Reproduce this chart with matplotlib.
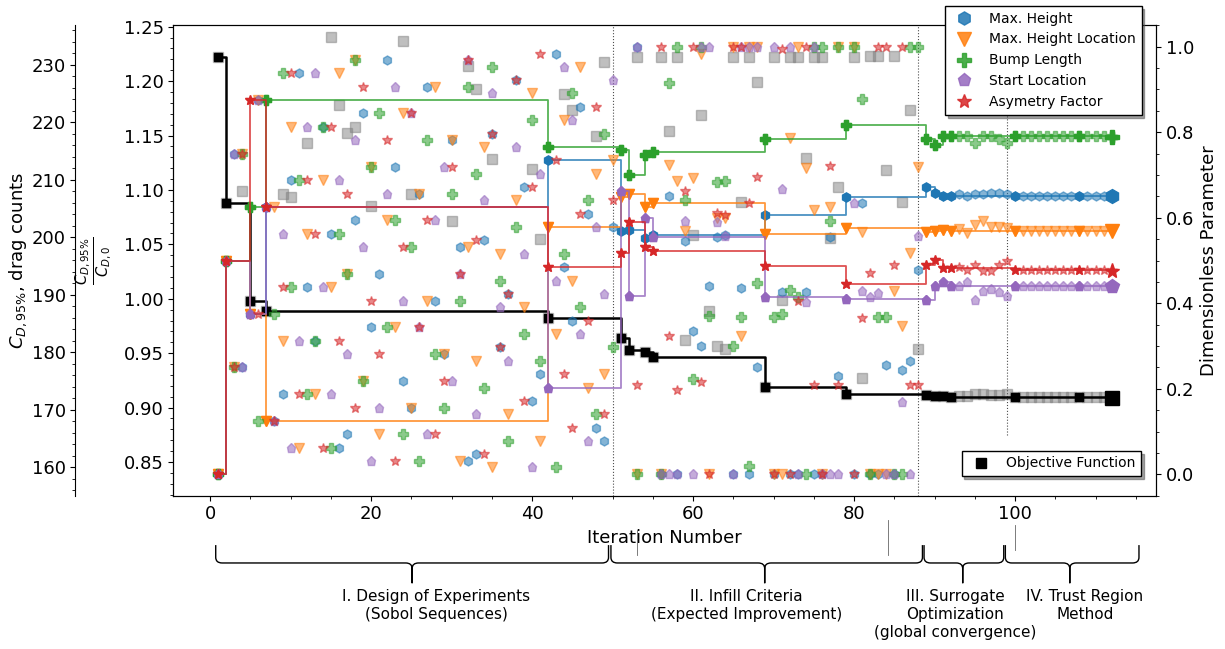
import numpy as np
import matplotlib
matplotlib.use('Agg')
import matplotlib.pyplot as plt
import matplotlib.transforms as mtransforms
from matplotlib.lines import Line2D
from matplotlib.path import Path
from matplotlib.patches import PathPatch
from matplotlib.ticker import MultipleLocator, FormatStrFormatter

# iterations 1..112, dimensionless design parameters (0..1)
iteration = np.arange(1, 113)

max_height = [
    0, .5, .75, .25, .375, .875, .625, .125, .188, .688, .938, .438, .312, .812, .562, .062, .094, .594, .844, .344,
    .469, .969, .719, .219, .156, .656, .906, .406, .281, .781, .531, .031, .047, .547, .797, .297, .422, .922, .672, .172,
    .234, .734, .984, .484, .359, .859, .609, .109, .078, .578,
    .568, .571, 1, .552, .560, 0, .650, 0, .545, .334, .299, .440, .554, .560, 0, .436, 0, .251, .607, 0,
    .426, 0, 0, .427, 0, 0, .554, .229, .648, 0, .635, 0, 0, .256, 0, .244, .265, .478,
    .673, .657, .652, .650, .656, .652, .656, .656, .657, .657, .656, .652,
    .652, .652, .652, .652, .652, .652, .652, .652, .652, .652, .652, .652]

max_height_loc = [
    0, .5, .25, .75, .375, .875, .125, .625, .312, .812, .062, .562, .188, .688, .438, .938, .469, .969, .219, .719,
    .094, .594, .344, .844, .156, .656, .406, .906, .281, .781, .031, .531, .266, .766, .016, .516, .141, .641, .391, .891,
    .078, .578, .328, .828, .453, .953, .203, .703, .234, .734,
    .648, .656, 0, .626, .635, 0, .724, .687, .570, .693, .982, 0, .599, .599, 1, .324, 1, 1, .561, 0,
    0, .787, 1, .716, .619, 0, .626, 1, .576, 1, .566, 0, 0, 0, .428, .347, .517, .718,
    .566, .568, .571, .568, .574, .564, .584, .592, .579, .579, .576, .568,
    .568, .568, .568, .568, .568, .568, .568, .568, .568, .568, .568, .568]

bump_length = [
    0, .5, .25, .75, .625, .125, .875, .375, .938, .438, .688, .188, .312, .812, .062, .562, .469, .969, .219, .719,
    .844, .344, .594, .094, .531, .031, .781, .281, .156, .656, .406, .906, .703, .203, .953, .453, .078, .578, .328, .828,
    .266, .766, .016, .516, .891, .391, .641, .141, .797, .297,
    .759, .700, 0, .746, .753, 0, .916, 1, .642, .223, 1, .371, .683, .687, .299, .369, .020, .447, .783, .367,
    .376, .431, .414, 0, 1, 1, .593, 1, .817, 1, .878, 0, .368, .368, 0, 0, 1, 1,
    .785, .771, .791, .791, .791, .791, .775, .791, .791, .783, .775, .792,
    .792, .792, .792, .792, .792, .792, .792, .792, .792, .792, .792, .789]

asymmetry = [
    0, .5, .25, .75, .875, .375, .625, .125, .438, .938, .188, .688, .562, .062, .812, .312, .656, .156, .906, .406,
    .281, .781, .031, .531, .844, .344, .594, .094, .219, .719, .469, .969, .547, .047, .797, .297, .422, .922, .172, .672,
    .984, .484, .734, .234, .109, .609, .359, .859, .141, .641,
    .518, .591, .209, .532, .523, 1, .323, .197, .663, 1, .217, 0, .611, .607, 1, 1, .635, .696, .488, 0,
    .995, 0, .406, 1, .208, 0, .721, .208, .445, 0, .365, .470, 1, 1, .489, 1, .208, .208,
    .489, .502, .482, .482, .484, .478, .490, .476, .476, .490, .498, .478,
    .478, .478, .478, .478, .478, .478, .478, .478, .478, .478, .478, .476]

start_loc = [
    0, .5, .75, .25, .375, .875, .625, .125, .562, .062, .312, .812, .938, .438, .188, .688, .281, .781, .531, .031,
    .156, .656, .906, .406, .844, .344, .094, .594, .719, .219, .469, .969, .141, .641, .891, .391, .266, .766, .516, .016,
    .703, .203, .453, .953, .828, .328, .078, .578, .422, .922,
    .662, .418, 1, .599, .554, 0, 0, 0, .593, 0, 1, 1, .589, .557, 0, 1, 1, 1, .414, 1,
    .667, 1, 0, .404, 1, 0, 0, 0, .410, .635, .429, .415, .423, 0, 0, .169, 0, .558,
    .408, .441, .450, .441, .441, .449, .408, .429, .433, .426, .418, .441,
    .441, .441, .441, .441, .441, .441, .441, .441, .441, .441, .441, .441]

# objective C_D,95% / C_D,0 of each evaluated design (only the ones inside the plot range)
obj_iter = [1, 2, 4, 5, 7, 9, 10, 12, 15, 16, 17, 18, 20, 24, 25, 30, 32, 33, 35, 40, 41, 42, 44, 45, 48, 49,
            51, 52, 53, 54, 55, 56, 57, 58, 59, 60, 61, 62, 63, 64, 65, 66, 67, 68, 69, 70, 71, 72, 73, 74,
            75, 76, 77, 78, 79, 80, 81, 82, 83, 84, 85, 86, 87, 88,
            89, 90, 91, 92, 93, 94, 95, 96, 97, 98, 99, 100, 101, 102, 103, 104, 105, 106, 107, 108,
            109, 110, 111, 112]
obj_val = [1.222, 1.0878, 1.0988, 0.9978, 0.9892, 1.096, 1.0936, 1.1432, 1.2406, 1.1778, 1.1521, 1.1576, 1.0853,
           1.2369, 1.0967, 1.071, 1.2137, 1.1928, 1.1282, 1.1188, 1.0547, 0.9819, 1.1882, 1.1739, 1.1494, 1.2176,
           0.964, 0.9527, 1.2218, 0.9509, 0.9466, 1.2224, 1.1543, 1.2224, 0.962, 1.0584, 1.1692, 0.9888, 0.9565,
           0.9541, 1.2218, 1.0892, 1.2218, 1.1993, 0.9193, 1.2218, 0.999, 1.2218, 1.2218, 1.1295, 1.2218, 1.2218,
           1.0556, 1.1028, 0.9123, 1.2218, 0.9272, 1.2228, 1.2228, 1.1183, 1.2233, 1.0887, 1.1733, 0.9536,
           0.912, 0.9107, 0.9105, 0.9101, 0.9107, 0.9107, 0.9129, 0.9129, 0.9116, 0.9116, 0.9123, 0.9095,
           0.9095, 0.9095, 0.9095, 0.9095, 0.9095, 0.9095, 0.9095, 0.9093, 0.9093, 0.9093, 0.9093, 0.9088]

# best design so far
best_iter = [1, 2, 5, 7, 42, 51, 52, 54, 55, 69, 79, 89, 90, 91, 92, 100, 108, 112]
best_obj = [1.222, 1.0878, 0.9978, 0.9892, 0.9819, 0.964, 0.9527, 0.9509, 0.9466, 0.9193, 0.9123,
            0.912, 0.9107, 0.9105, 0.9101, 0.9095, 0.9093, 0.9088]

cd0_counts = 189.3

phase_lo = [0.7, 49.8, 88.7, 98.8]
phase_hi = [49.5, 88.5, 98.6, 115.4]
phase_tip = [25.1, 68.9, 93.5, 106.8]
phase_text = ['I. Design of Experiments\n(Sobol Sequences)',
              'II. Infill Criteria\n(Expected Improvement)',
              'III. Surrogate\nOptimization\n(global convergence)',
              'IV. Trust Region\nMethod']
phase_text_x = [28.1, 66.6, 92.6, 108.7]

params = [
    ('Max. Height', max_height, 'h', 'tab:blue', 6.5),
    ('Max. Height Location', max_height_loc, 'v', 'tab:orange', 6.5),
    ('Bump Length', bump_length, 'P', 'tab:green', 6.5),
    ('Start Location', start_loc, 'p', 'tab:purple', 6.5),
    ('Asymetry Factor', asymmetry, '*', 'tab:red', 7.5),
]

plt.rcParams['font.size'] = 13

fig = plt.figure(figsize=(12.25, 6.49), dpi=100)
ax = fig.add_axes([0.1416, 0.2362, 0.8023, 0.7248])
ax2 = ax.twinx()
ax3 = ax.twinx()

# objective on left axis
ax.plot(obj_iter, obj_val, ls='none', marker='s', ms=6.5, color='grey', alpha=0.5, zorder=2)
ax.plot(best_iter, best_obj, color='k', lw=1.8, drawstyle='steps-post', marker='s', ms=6, zorder=3)
ax.plot(best_iter[-1], best_obj[-1], ls='none', marker='s', ms=9.5, color='k', zorder=3)

ax.axvline(50, color='0.3', lw=0.8, ls=':')
ax.axvline(88, color='0.3', lw=0.8, ls=':')
ax.axvline(99, ymin=0.13, color='0.3', lw=0.8, ls=':')

# parameters on right axis
idx = np.array(best_iter) - 1
for label, vals, mk, col, ms in params:
    vals = np.array(vals)
    ax2.plot(iteration, vals, ls='none', marker=mk, ms=ms, color=col, alpha=0.55)
    ax2.plot(best_iter, vals[idx], drawstyle='steps-post', color=col, lw=1.3, alpha=0.8)
    ax2.plot(best_iter, vals[idx], ls='none', marker=mk, ms=ms, color=col)
    ax2.plot(best_iter[-1], vals[idx][-1], ls='none', marker=mk, ms=ms + 3.5, color=col)

ax.set_xlim(-4.55, 117.55)
ax.set_ylim(0.819, 1.2513)
ax2.set_ylim(-0.05, 1.05)
ax3.set_ylim(0.819 * cd0_counts, 1.2513 * cd0_counts)

ax.xaxis.set_major_locator(MultipleLocator(20))
ax.xaxis.set_minor_locator(MultipleLocator(5))
ax.set_xticks([0, 20, 40, 60, 80, 100])
ax.yaxis.set_major_locator(MultipleLocator(0.05))
ax.yaxis.set_minor_locator(MultipleLocator(0.01))
ax.yaxis.set_major_formatter(FormatStrFormatter('%.2f'))
ax2.yaxis.set_major_locator(MultipleLocator(0.2))
ax2.yaxis.set_minor_locator(MultipleLocator(0.05))
ax3.yaxis.set_major_locator(MultipleLocator(10))
ax3.yaxis.set_minor_locator(MultipleLocator(2))

ax3.yaxis.tick_left()
ax3.yaxis.set_label_position('left')
ax3.spines['left'].set_position(('outward', 70.6))
ax3.spines['left'].set_visible(True)
for s in ['right', 'top', 'bottom']:
    ax3.spines[s].set_visible(False)

ax.set_xlabel('Iteration Number')
ax.set_ylabel(r'$\frac{C_{D,95\%}}{C_{D,0}}$', fontsize=15, labelpad=6)
ax2.set_ylabel('Dimensionless Parameter')
ax3.set_ylabel(r'$C_{D,95\%}$, drag counts', labelpad=2)

# legends
handles = [Line2D([], [], ls='none', marker=mk, ms=ms + 3, color=col, alpha=0.85)
           for label, vals, mk, col, ms in params]
leg1 = ax2.legend(handles, [p[0] for p in params], loc='upper left',
                  bbox_to_anchor=(0.7714, 0.9908), bbox_transform=fig.transFigure,
                  borderaxespad=0, fancybox=False, shadow=True, edgecolor='k',
                  framealpha=1, fontsize=10)
ax2.add_artist(leg1)
obj_handle = Line2D([], [], ls='none', marker='s', ms=7, color='k')
ax2.legend([obj_handle], ['Objective Function'], loc='lower right',
           bbox_to_anchor=(0.9314, 0.2666), bbox_transform=fig.transFigure,
           borderaxespad=0, fancybox=False, shadow=True, edgecolor='k',
           framealpha=1, fontsize=10)

# phase braces below the axis
trans = mtransforms.blended_transform_factory(ax.transData, ax.transAxes)
y_top, y_mid, y_tip = -0.105, -0.143, -0.186
r, c = 0.8, 0.012
for x0, x1, xm, txt, tx in zip(phase_lo, phase_hi, phase_tip, phase_text, phase_text_x):
    verts = [(x0, y_top), (x0, y_mid + c), (x0, y_mid), (x0 + r, y_mid),
             (xm - r, y_mid), (xm, y_mid), (xm, y_mid - c), (xm, y_tip),
             (xm, y_mid - c), (xm, y_mid), (xm + r, y_mid),
             (x1 - r, y_mid), (x1, y_mid), (x1, y_mid + c), (x1, y_top)]
    codes = [Path.MOVETO, Path.LINETO, Path.CURVE3, Path.CURVE3,
             Path.LINETO, Path.CURVE3, Path.CURVE3, Path.LINETO,
             Path.LINETO, Path.CURVE3, Path.CURVE3,
             Path.LINETO, Path.CURVE3, Path.CURVE3, Path.LINETO]
    ax.add_artist(PathPatch(Path(verts, codes), transform=trans, fill=False,
                            lw=1, color='k', clip_on=False))
    ax.text(tx, -0.199, txt, transform=trans, ha='center', va='top',
            fontsize=11, linespacing=1.25, multialignment='center')

for xv, ya, yb in [(53, -0.073, -0.126), (84.2, -0.052, -0.126), (100, -0.062, -0.115)]:
    ax.add_artist(Line2D([xv, xv], [ya, yb], transform=trans, color='0.4', lw=0.6,
                         clip_on=False))

fig.savefig('out.png', dpi=100)
